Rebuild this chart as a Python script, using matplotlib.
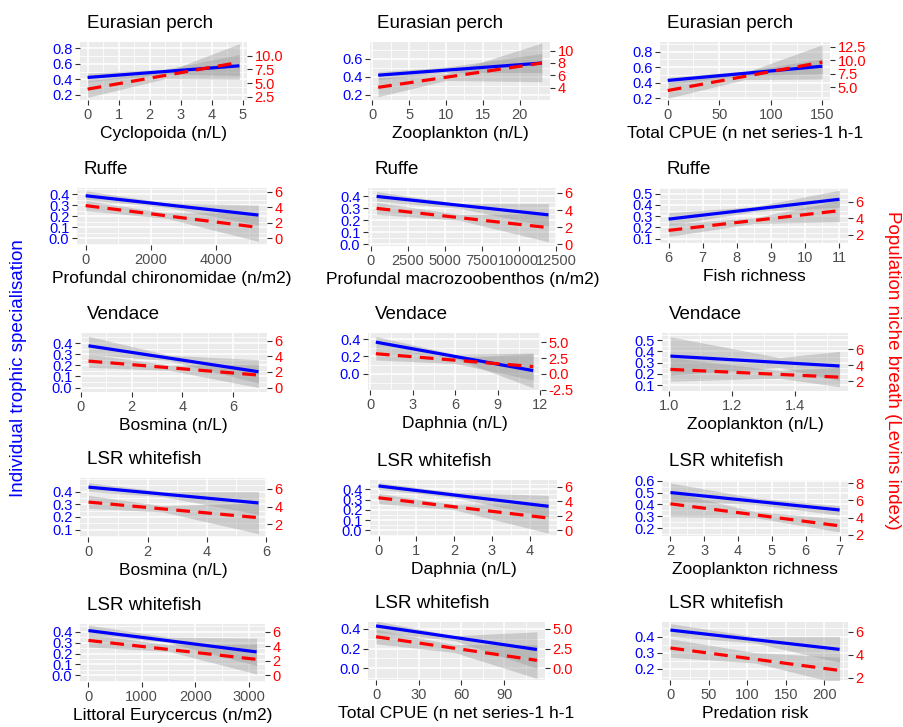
import numpy as np
import matplotlib.pyplot as plt
from matplotlib.ticker import AutoMinorLocator

plt.rcParams['font.family'] = ['Liberation Sans', 'DejaVu Sans']

W, H = 904, 727

# ---- data (blue = individual specialisation, red = Levins index) ----
titles = ['Eurasian perch', 'Eurasian perch', 'Eurasian perch',
          'Ruffe', 'Ruffe', 'Ruffe',
          'Vendace', 'Vendace', 'Vendace',
          'LSR whitefish', 'LSR whitefish', 'LSR whitefish',
          'LSR whitefish', 'LSR whitefish', 'LSR whitefish']

xlabels = ['Cyclopoida (n/L)', 'Zooplankton (n/L)', 'Total CPUE (n net series-1 h-1',
           'Profundal chironomidae (n/m2)', 'Profundal macrozoobenthos (n/m2)', 'Fish richness',
           'Bosmina (n/L)', 'Daphnia (n/L)', 'Zooplankton (n/L)',
           'Bosmina (n/L)', 'Daphnia (n/L)', 'Zooplankton richness',
           'Littoral Eurycercus (n/m2)', 'Total CPUE (n net series-1 h-1', 'Predation risk']

x_ranges = [(0, 4.9), (0.8, 23), (0, 150),
            (0, 5300), (400, 12000), (6, 11),
            (0.3, 7.0), (0.4, 11.5), (1.005, 1.54),
            (0, 5.75), (0, 4.5), (2, 7),
            (0, 3150), (0, 113), (0, 220)]

# x position where the confidence bands are narrowest
band_mid = [2.5, 10, 75, 2500, 6000, 8.5, 3.5, 6, 1.35, 2.5, 2, 4.5, 1500, 55, 110]

x_ticks = [['0', '1', '2', '3', '4', '5'], ['0', '5', '10', '15', '20'], ['0', '50', '100', '150'],
           ['0', '2000', '4000'], ['0', '2500', '5000', '7500', '10000', '12500'], ['6', '7', '8', '9', '10', '11'],
           ['0', '2', '4', '6'], ['0', '3', '6', '9', '12'], ['1.0', '1.2', '1.4'],
           ['0', '2', '4', '6'], ['0', '1', '2', '3', '4'], ['2', '3', '4', '5', '6', '7'],
           ['0', '1000', '2000', '3000'], ['0', '30', '60', '90'], ['0', '50', '100', '150', '200']]

y_ticks_left = [['0.2', '0.4', '0.6', '0.8'], ['0.2', '0.4', '0.6'], ['0.2', '0.4', '0.6', '0.8'],
                ['0.0', '0.1', '0.2', '0.3', '0.4'], ['0.0', '0.1', '0.2', '0.3', '0.4'], ['0.1', '0.2', '0.3', '0.4', '0.5'],
                ['0.0', '0.1', '0.2', '0.3', '0.4'], ['0.0', '0.2', '0.4'], ['0.1', '0.2', '0.3', '0.4', '0.5'],
                ['0.1', '0.2', '0.3', '0.4'], ['0.0', '0.1', '0.2', '0.3', '0.4'], ['0.2', '0.3', '0.4', '0.5', '0.6'],
                ['0.0', '0.1', '0.2', '0.3', '0.4'], ['0.0', '0.2', '0.4'], ['0.2', '0.3', '0.4']]

y_ticks_right = [['2.5', '5.0', '7.5', '10.0'], ['4', '6', '8', '10'], ['5.0', '7.5', '10.0', '12.5'],
                 ['0', '2', '4', '6'], ['0', '2', '4', '6'], ['2', '4', '6'],
                 ['0', '2', '4', '6'], ['-2.5', '0.0', '2.5', '5.0'], ['2', '4', '6'],
                 ['2', '4', '6'], ['0', '2', '4', '6'], ['2', '4', '6', '8'],
                 ['0', '2', '4', '6'], ['0.0', '2.5', '5.0'], ['2', '4', '6']]

y_limits = [(0.135, 0.881), (0.144, 0.789), (0.178, 0.925),
            (-0.061, 0.455), (-0.014, 0.47), (0.062, 0.55),
            (-0.04, 0.49), (-0.185, 0.47), (0.047, 0.564),
            (0.041, 0.507), (-0.055, 0.49), (0.136, 0.605),
            (-0.06, 0.47), (-0.12, 0.47), (0.13, 0.49)]

# Levins index = sec_scale * specialisation + sec_shift
sec_scale = [14.2, 14.4, 14.5, 14.2, 14.0, 13.75, 14.3, 13.8, 14.1, 14.2, 14.2, 13.8, 15.0, 12.5, 14.0]
sec_shift = [0, 0, 0, 0, 0, 0.13, 0, 0, 0.1, 0, 0, 0, 0, 0, 0]

# fitted lines at (start, end) of x range
blue_lines = [(0.425, 0.575), (0.42, 0.555), (0.43, 0.613),
              (0.385, 0.21), (0.40, 0.246), (0.274, 0.45),
              (0.375, 0.142), (0.365, 0.038), (0.358, 0.27),
              (0.435, 0.31), (0.432, 0.234), (0.50, 0.354),
              (0.41, 0.215), (0.43, 0.19), (0.44, 0.32)]

red_lines = [(3.9, 8.8), (4.1, 8.0), (4.35, 9.65),
             (4.2, 1.4), (4.2, 1.95), (2.52, 4.93),
             (3.4, 1.6), (3.2, 1.16), (3.48, 2.5),
             (4.5, 2.75), (4.5, 1.7), (5.6, 3.05),
             (4.8, 2.2), (4.0, 1.0), (4.6, 2.65)]

# confidence bands at (start, band_mid, end)
blue_lo = [[0.37, 0.47, 0.45], [0.37, 0.45, 0.45], [0.39, 0.49, 0.52],
           [0.35, 0.28, 0.12], [0.36, 0.30, 0.15], [0.22, 0.34, 0.38],
           [0.30, 0.24, 0.04], [0.30, 0.175, -0.16], [0.19, 0.255, 0.14],
           [0.40, 0.36, 0.22], [0.40, 0.32, 0.13], [0.43, 0.40, 0.31],
           [0.38, 0.30, 0.09], [0.37, 0.28, 0.0], [0.40, 0.36, 0.24]]
blue_hi = [[0.48, 0.53, 0.72], [0.46, 0.51, 0.66], [0.47, 0.55, 0.71],
           [0.43, 0.32, 0.30], [0.44, 0.34, 0.34], [0.33, 0.385, 0.53],
           [0.46, 0.29, 0.25], [0.43, 0.225, 0.24], [0.53, 0.345, 0.40],
           [0.47, 0.40, 0.40], [0.465, 0.37, 0.34], [0.58, 0.455, 0.39],
           [0.46, 0.35, 0.34], [0.48, 0.33, 0.37], [0.48, 0.40, 0.40]]
red_lo = [[2.4, 5.8, 5.7], [2.6, 5.2, 5.0], [2.9, 6.4, 6.5],
          [3.55, 2.55, -0.4], [3.5, 2.8, 0.3], [1.78, 3.36, 3.57],
          [2.6, 2.2, 0.0], [2.2, 1.65, -0.97], [2.0, 2.36, 1.3],
          [3.8, 3.4, 0.95], [3.7, 2.85, -0.4], [4.1, 4.0, 2.35],
          [3.9, 3.3, 0.2], [3.1, 2.0, -1.3], [3.8, 3.3, 1.5]]
red_hi = [[5.4, 7.0, 12.2], [5.6, 6.3, 11.2], [5.8, 7.7, 12.9],
          [4.85, 3.25, 3.25], [4.9, 3.5, 3.6], [3.29, 4.05, 6.18],
          [4.3, 2.9, 3.0], [4.1, 2.6, 3.2], [4.96, 3.34, 3.77],
          [5.25, 4.1, 4.4], [5.1, 3.6, 3.7], [7.0, 4.7, 3.85],
          [5.7, 4.2, 4.3], [4.9, 3.0, 3.0], [5.4, 4.2, 3.8]]

# ---- layout: panel boxes in pixels (left, top, right, bottom) ----
boxes = [(80, 42, 247, 100), (370, 42, 550, 100), (660, 42, 830, 100),
         (77, 188, 267, 245), (368, 188, 557, 246), (660, 188, 848, 243),
         (80, 333, 267, 392), (368, 333, 541, 390), (662, 333, 848, 391),
         (80, 478, 267, 537), (370, 480, 557, 536), (662, 480, 848, 536),
         (80, 624, 265, 682), (368, 622, 545, 680), (662, 622, 848, 680)]

band_color = '#999999'
tick_color = '#333333'

fig = plt.figure(figsize=(W / 100, H / 100), dpi=100)

for i, (l, t, r, b) in enumerate(boxes):
    ax = fig.add_axes([l / W, 1 - b / H, (r - l) / W, (b - t) / H])
    ax.set_facecolor('#EBEBEB')
    for s in ax.spines.values():
        s.set_visible(False)

    k, c = sec_scale[i], sec_shift[i]
    x0, x1 = x_ranges[i]
    xs = [x0, band_mid[i], x1]

    def to_left(v, k=k, c=c):
        return (np.asarray(v, dtype=float) - c) / k

    ax.fill_between(xs, blue_lo[i], blue_hi[i], color=band_color, alpha=0.4, lw=0, zorder=2)
    ax.fill_between(xs, to_left(red_lo[i]), to_left(red_hi[i]), color=band_color, alpha=0.4, lw=0, zorder=2)
    ax.plot([x0, x1], blue_lines[i], color='blue', lw=2.3, solid_capstyle='butt', zorder=3)
    ax.plot([x0, x1], to_left(red_lines[i]), color='red', lw=2.3, dashes=(4.3, 2.6),
            dash_capstyle='butt', zorder=4)

    span = x1 - x0
    ax.set_xlim(x0 - 0.05 * span, x1 + 0.05 * span)
    ax.set_ylim(*y_limits[i])

    ax.set_xticks([float(v) for v in x_ticks[i]])
    ax.set_xticklabels(x_ticks[i])
    ax.set_yticks([float(v) for v in y_ticks_left[i]])
    ax.set_yticklabels(y_ticks_left[i])
    ax.xaxis.set_minor_locator(AutoMinorLocator(2))
    ax.yaxis.set_minor_locator(AutoMinorLocator(2))
    ax.grid(which='major', color='white', lw=1.1)
    ax.grid(which='minor', color='white', lw=0.55)
    ax.set_axisbelow(True)
    ax.tick_params(which='major', length=3.5, width=0.8, color=tick_color, labelsize=10.5, pad=2)
    ax.tick_params(which='minor', length=0)
    ax.tick_params(axis='x', labelcolor='#4D4D4D')
    ax.tick_params(axis='y', labelcolor='blue')

    sec = ax.secondary_yaxis('right', functions=(lambda p, k=k, c=c: p * k + c,
                                                 lambda s, k=k, c=c: (s - c) / k))
    sec.set_yticks([float(v) for v in y_ticks_right[i]])
    sec.set_yticklabels(y_ticks_right[i])
    sec.spines['right'].set_visible(False)
    sec.tick_params(length=3.5, width=0.8, color=tick_color, labelcolor='red', labelsize=10.5, pad=2)

    ax.annotate(titles[i], xy=(0, 1), xycoords='axes fraction', xytext=(5, 10),
                textcoords='offset points', fontsize=13.5, va='baseline', ha='left')
    ax.annotate(xlabels[i], xy=(0.5, 0), xycoords='axes fraction', xytext=(0, -27.5),
                textcoords='offset points', fontsize=12.5, va='baseline', ha='center')

fig.text(19 / W, 1 - 368 / H, 'Individual trophic specialisation', rotation=90,
         color='blue', fontsize=13.5, ha='center', va='center')
fig.text(893 / W, 1 - 370 / H, 'Population niche breath (Levins index)', rotation=270,
         color='red', fontsize=13.5, ha='center', va='center')

fig.savefig('out.png', dpi=100)
